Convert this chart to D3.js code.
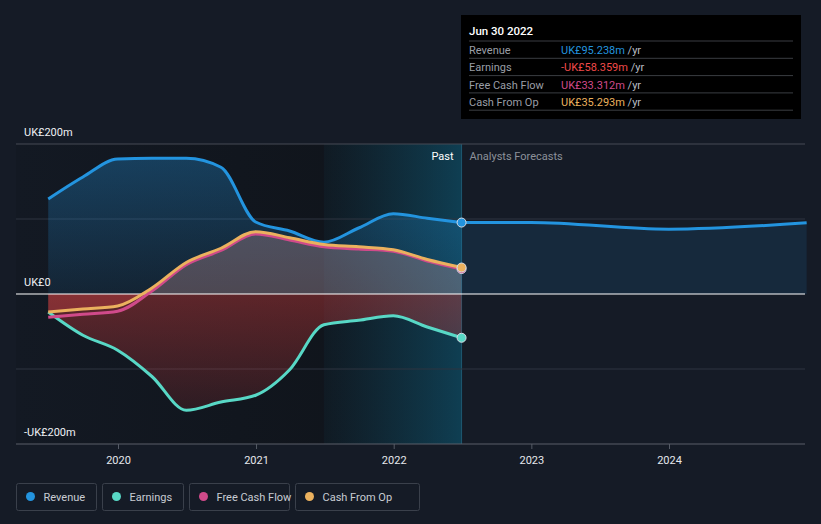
<!DOCTYPE html>
<html><head><meta charset="utf-8">
<script src="https://cdn.jsdelivr.net/npm/d3@7/dist/d3.min.js"></script>
<style>
html,body{margin:0;padding:0;background:#151b26;}
svg{display:block;font-family:Roboto,"Noto Sans",sans-serif;}
</style></head><body>
<svg id="chart" width="821" height="524"></svg>
<script>
const pastDates = ["2019-06-30","2019-09-30","2019-12-31","2020-03-31","2020-06-30","2020-09-30","2020-12-31","2021-03-31","2021-06-30","2021-09-30","2021-12-31","2022-03-31","2022-06-30"];
const revenue   = [126.7, 156, 180, 181, 181, 169, 96, 84, 69, 88, 107, 101, 95.238];
const earnings  = [-24, -55, -75, -110, -155, -144, -135, -101, -41, -35, -29, -44, -58.359];
const freeCashFlow = [-31, -27, -23, 4, 39, 58, 80, 72, 63, 60, 57, 44, 33.312];
const cashFromOp   = [-24, -20, -16, 8, 42, 61, 83, 75, 66, 63, 59, 46, 35.293];
const forecastDates = ["2022-06-30","2022-12-31","2023-12-31","2024-12-31"];
const revenueForecast = [95.238, 95.5, 86.5, 95];
const yTicks = [-200, 0, 200];
const yTickLabels = ["-UK£200m", "UK£0", "UK£200m"];
const xTickYears = [2020, 2021, 2022, 2023, 2024];
const legendItems = ["Revenue", "Earnings", "Free Cash Flow", "Cash From Op"];
const tooltipTitle = "Jun 30 2022";
const tooltipValues = ["UK£95.238m", "-UK£58.359m", "UK£33.312m", "UK£35.293m"];

const colors = {Revenue:"#2394df", Earnings:"#58d8c6", "Free Cash Flow":"#d04a8a", "Cash From Op":"#ebb15e"};
const tipColors = ["#2394df", "#f04a4a", "#d04a8a", "#ebb15e"];

const svg = d3.select("#chart");
const parse = d3.timeParse("%Y-%m-%d");
const L = 16, R = 805;
const x = d3.scaleTime().domain([new Date(2020,0,1), new Date(2024,0,1)]).range([118, 669]);
const y = d3.scaleLinear().domain([-200, 200]).range([444, 144]);

const past = pastDates.map((d,i)=>({d:parse(d), rev:revenue[i], earn:earnings[i], fcf:freeCashFlow[i], cfo:cashFromOp[i]}));
const fc = forecastDates.map((d,i)=>({d:parse(d), rev:revenueForecast[i]}));
const xCut = x(parse("2022-06-30"));
const xBand = x(parse("2021-06-30"));

const defs = svg.append("defs");
const gPast = defs.append("linearGradient").attr("id","pastBg").attr("x1",0).attr("x2",1).attr("y1",0).attr("y2",0);
gPast.append("stop").attr("offset","0%").attr("stop-color","#131923");
gPast.append("stop").attr("offset","100%").attr("stop-color","#0f1319");
const gBand = defs.append("linearGradient").attr("id","band").attr("x1",0).attr("x2",1).attr("y1",0).attr("y2",0);
gBand.append("stop").attr("offset","0%").attr("stop-color","#0f5a78").attr("stop-opacity",0.08);
gBand.append("stop").attr("offset","100%").attr("stop-color","#0f6a8c").attr("stop-opacity",0.5);
const gRev = defs.append("linearGradient").attr("id","revFill").attr("x1",0).attr("x2",0).attr("y1",0).attr("y2",1);
gRev.append("stop").attr("offset","0%").attr("stop-color","#2394df").attr("stop-opacity",0.32);
gRev.append("stop").attr("offset","100%").attr("stop-color","#2394df").attr("stop-opacity",0.1);
const gEarn = defs.append("linearGradient").attr("id","earnFill").attr("x1",0).attr("x2",0).attr("y1",0).attr("y2",1);
gEarn.append("stop").attr("offset","0%").attr("stop-color","#c83a3a").attr("stop-opacity",0.42);
gEarn.append("stop").attr("offset","100%").attr("stop-color","#c83a3a").attr("stop-opacity",0.15);
defs.append("clipPath").attr("id","above").append("rect").attr("x",0).attr("y",0).attr("width",821).attr("height",y(0));
defs.append("clipPath").attr("id","below").append("rect").attr("x",0).attr("y",y(0)).attr("width",821).attr("height",200);

// backgrounds
svg.append("rect").attr("x",L).attr("y",y(200)).attr("width",xCut-L).attr("height",y(-200)-y(200)).attr("fill","url(#pastBg)");
svg.append("rect").attr("x",xBand).attr("y",y(200)).attr("width",xCut-xBand).attr("height",y(-200)-y(200)).attr("fill","url(#band)");
svg.append("line").attr("x1",xCut).attr("x2",xCut).attr("y1",y(200)).attr("y2",y(-200)).attr("stroke","#1d5870").attr("stroke-width",1);

// gridlines
[200,100,-100].forEach(v=>{
  svg.append("line").attr("x1",L).attr("x2",R).attr("y1",y(v)).attr("y2",y(v))
    .attr("stroke", v===200?"#464b55":"#2e3440").attr("stroke-width",1);
});

const curve = d3.curveMonotoneX;
// areas
svg.append("path").datum(past).attr("fill","url(#revFill)")
  .attr("d", d3.area().curve(curve).x(d=>x(d.d)).y0(y(0)).y1(d=>y(d.rev)));
svg.append("path").datum(fc).attr("fill","#2394df").attr("fill-opacity",0.12)
  .attr("d", d3.area().curve(curve).x(d=>x(d.d)).y0(y(0)).y1(d=>y(d.rev)));
svg.append("path").datum(past).attr("fill","url(#earnFill)")
  .attr("d", d3.area().curve(curve).x(d=>x(d.d)).y0(y(0)).y1(d=>y(d.earn)));
const cfArea = d3.area().curve(curve).x(d=>x(d.d)).y0(y(0)).y1(d=>y(d.cfo));
svg.append("path").datum(past).attr("fill","#e6a8a8").attr("fill-opacity",0.28).attr("clip-path","url(#above)").attr("d", cfArea);
svg.append("path").datum(past).attr("fill","#e04848").attr("fill-opacity",0.3).attr("clip-path","url(#below)").attr("d", cfArea);

// zero line
svg.append("line").attr("x1",L).attr("x2",R).attr("y1",y(0)).attr("y2",y(0)).attr("stroke","#ffffff").attr("stroke-width",1.2);

// lines
const line = key => d3.line().curve(curve).x(d=>x(d.d)).y(d=>y(d[key]));
svg.append("path").datum(fc).attr("fill","none").attr("stroke",colors.Revenue).attr("stroke-width",3).attr("d", line("rev"));
svg.append("path").datum(past).attr("fill","none").attr("stroke",colors.Revenue).attr("stroke-width",3).attr("d", line("rev"));
svg.append("path").datum(past).attr("fill","none").attr("stroke",colors.Earnings).attr("stroke-width",3).attr("d", line("earn"));
svg.append("path").datum(past).attr("fill","none").attr("stroke",colors["Free Cash Flow"]).attr("stroke-width",3).attr("d", line("fcf"));
svg.append("path").datum(past).attr("fill","none").attr("stroke",colors["Cash From Op"]).attr("stroke-width",3).attr("d", line("cfo"));

// markers
const last = past[past.length-1];
[["rev","Revenue"],["earn","Earnings"],["fcf","Free Cash Flow"],["cfo","Cash From Op"]].forEach(([k,n])=>{
  svg.append("circle").attr("cx",x(last.d)).attr("cy",y(last[k])).attr("r",4.5)
    .attr("fill",colors[n]).attr("stroke","#d8dde6").attr("stroke-width",1);
});

// y labels
yTicks.forEach((v,i)=>{
  svg.append("text").attr("x",24).attr("y",y(v)-8).attr("fill","#eef0f3").attr("font-size",11).text(yTickLabels[i]);
});

// x axis
const xAxis = svg.append("g").attr("transform",`translate(0,${y(-200)})`)
  .call(d3.axisBottom(x).tickValues(xTickYears.map(yr=>new Date(yr,0,1))).tickFormat(d3.timeFormat("%Y")).tickSize(5).tickSizeOuter(0));
xAxis.select(".domain").remove();
xAxis.selectAll(".tick line").attr("stroke","#555b66");
xAxis.selectAll("text").attr("fill","#e6e8ec").attr("font-size",11).attr("font-family","Roboto,sans-serif").attr("dy","1.05em");
svg.append("line").attr("x1",L).attr("x2",R).attr("y1",y(-200)).attr("y2",y(-200)).attr("stroke","#5a5f69").attr("stroke-width",1.2);

// Past / Forecast labels
svg.append("text").attr("x",xCut-8).attr("y",160).attr("text-anchor","end").attr("fill","#ffffff").attr("font-size",11).text("Past");
svg.append("text").attr("x",xCut+8).attr("y",160).attr("fill","#8c919a").attr("font-size",11).text("Analysts Forecasts");

// tooltip
const tip = svg.append("g").attr("transform","translate(461,15)");
tip.append("rect").attr("width",340).attr("height",104).attr("fill","#000000");
tip.append("text").attr("x",8).attr("y",20).attr("fill","#ffffff").attr("font-size",11.5).attr("font-weight",500).text(tooltipTitle);
legendItems.forEach((n,i)=>{
  const yy = 26 + i*17.3;
  tip.append("line").attr("x1",8).attr("x2",332).attr("y1",yy).attr("y2",yy).attr("stroke","#3a3d42");
  tip.append("text").attr("x",8).attr("y",yy+13).attr("fill","#9a9ea6").attr("font-size",11).text(n);
  const t = tip.append("text").attr("x",100).attr("y",yy+13).attr("font-size",11);
  t.append("tspan").attr("fill",tipColors[i]).text(tooltipValues[i]);
  t.append("tspan").attr("fill","#b8bcc4").text(" /yr");
});
tip.append("line").attr("x1",8).attr("x2",332).attr("y1",26+4*17.3).attr("y2",26+4*17.3).attr("stroke","#3a3d42");

// legend
let lx = 16;
const widths = [81, 82, 101, 125];
legendItems.forEach((n,i)=>{
  const g = svg.append("g").attr("transform",`translate(${lx+0.5},483.5)`);
  g.append("rect").attr("width",widths[i]-1).attr("height",27).attr("rx",2).attr("fill","none").attr("stroke","#3a404b");
  g.append("circle").attr("cx",14).attr("cy",13).attr("r",4.5).attr("fill",colors[n]);
  g.append("text").attr("x",27).attr("y",17).attr("fill","#c8ccd3").attr("font-size",11).text(n);
  lx += widths[i] + 5;
});
</script>
</body></html>
